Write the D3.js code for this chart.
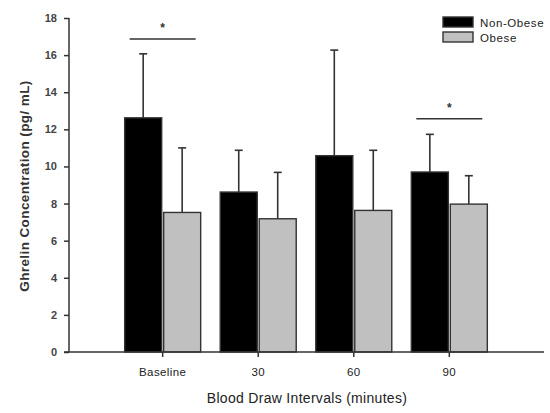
<!DOCTYPE html>
<html><head><meta charset="utf-8">
<script src="https://cdn.jsdelivr.net/npm/d3@7"></script>
<style>body{margin:0;background:#fff}svg{display:block}text{font-family:"Liberation Sans",Arial,sans-serif}</style>
</head><body>
<svg id="c" width="550" height="413"></svg>
<script>
const categories = ["Baseline","30","60","90"];
const seriesNames = ["Non-Obese","Obese"];
const nonObese = [12.62, 8.62, 10.58, 9.70];
const nonObeseErr = [3.45, 2.25, 5.69, 2.03];
const obese = [7.52, 7.18, 7.63, 7.97];
const obeseErr = [3.48, 2.50, 3.24, 1.53];
const yTicks = [0,2,4,6,8,10,12,14,16,18];
const sigGroups = [{cat:"Baseline", y:16.87}, {cat:"90", y:12.57}];
const colors = ["#000000","#c0c0c0"];

const svg = d3.select("#c");
const y = d3.scaleLinear().domain([0,18]).range([352,18]);
const x0 = d3.scaleBand().domain(categories).range([114.9,497.1]);
const x1 = d3.scaleBand().domain(seriesNames).range([-38,38]).paddingInner(0.05);
const center = c => x0(c) + x0.bandwidth()/2;

const data = categories.map((c,i)=>[
  {cat:c, s:seriesNames[0], v:nonObese[i], e:nonObeseErr[i]},
  {cat:c, s:seriesNames[1], v:obese[i], e:obeseErr[i]}
]).flat();

// error bars (behind bars)
const eg = svg.append("g").attr("stroke","#333").attr("stroke-width",1.6);
data.forEach(d=>{
  const cx = center(d.cat) + x1(d.s) + x1.bandwidth()/2;
  eg.append("line").attr("x1",cx).attr("x2",cx).attr("y1",y(d.v)).attr("y2",y(d.v+d.e));
  eg.append("line").attr("x1",cx-4).attr("x2",cx+4).attr("y1",y(d.v+d.e)).attr("y2",y(d.v+d.e));
});

// bars
svg.append("g").selectAll("rect").data(data).join("rect")
  .attr("x",d=>center(d.cat)+x1(d.s))
  .attr("width",x1.bandwidth())
  .attr("y",d=>y(d.v))
  .attr("height",d=>y(0)-y(d.v))
  .attr("fill",d=>colors[seriesNames.indexOf(d.s)])
  .attr("stroke","#333").attr("stroke-width",1.4);

// y axis
const ya = svg.append("g").attr("transform","translate(69,0)")
  .call(d3.axisLeft(y).tickValues(yTicks).tickSize(5).tickPadding(7));
ya.select(".domain").attr("stroke","#333").attr("stroke-width",1.5).attr("d","M0,18V352");
ya.selectAll(".tick line").attr("stroke","#333").attr("stroke-width",1.5);
ya.selectAll(".tick text").attr("font-size",11).attr("font-weight","bold").attr("fill","#444");

// x axis
const xa = svg.append("g").attr("transform","translate(0,352)")
  .call(d3.axisBottom(x0).tickSize(5).tickPadding(11));
xa.select(".domain").attr("stroke","#333").attr("stroke-width",1.5).attr("d","M64,0H544");
xa.selectAll(".tick line").attr("stroke","#333").attr("stroke-width",1.5);
xa.selectAll(".tick text").attr("font-size",11.5).attr("fill","#222").attr("letter-spacing","0.4");

// axis titles
svg.append("text").attr("transform","translate(29,186) rotate(-90)")
  .attr("text-anchor","middle").attr("font-size",13.5).attr("font-weight","bold").attr("fill","#333")
  .attr("letter-spacing","0.4")
  .text("Ghrelin Concentration (pg/ mL)");
svg.append("text").attr("x",307).attr("y",403).attr("text-anchor","middle")
  .attr("font-size",14).attr("fill","#222").attr("letter-spacing","0.3").text("Blood Draw Intervals (minutes)");

// significance markers
sigGroups.forEach(g=>{
  const c = center(g.cat);
  svg.append("line").attr("x1",c-33).attr("x2",c+33).attr("y1",y(g.y)).attr("y2",y(g.y))
    .attr("stroke","#333").attr("stroke-width",1.6);
  svg.append("text").attr("x",c).attr("y",y(g.y)-7).attr("text-anchor","middle")
    .attr("font-size",12).attr("font-weight","bold").attr("fill","#333").text("*");
});

// legend
const lg = svg.append("g");
seriesNames.forEach((s,i)=>{
  lg.append("rect").attr("x",443).attr("y",17+i*15).attr("width",30).attr("height",10)
    .attr("fill",colors[i]).attr("stroke","#333").attr("stroke-width",1.4);
  lg.append("text").attr("x",480).attr("y",26.5+i*15).attr("font-size",11.5).attr("fill","#222")
    .attr("letter-spacing","0.6").text(s);
});
</script>
</body></html>
